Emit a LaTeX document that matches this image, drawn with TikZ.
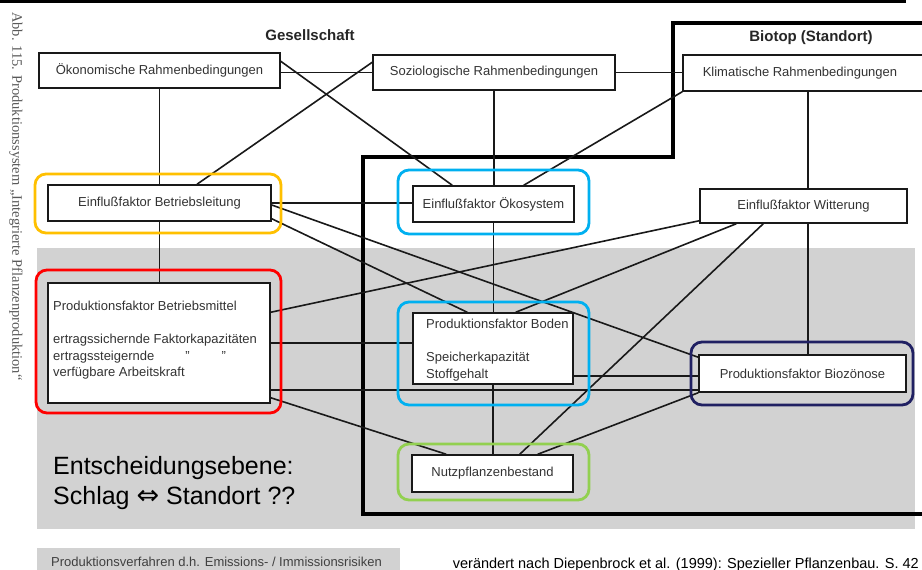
\documentclass[tikz,border=0pt]{standalone}
\usepackage{fontspec}
\setmainfont{Liberation Sans}
\newfontfamily\seriffont{Liberation Serif}
\newfontfamily\symfont{DejaVu Sans}
\usetikzlibrary{backgrounds}
\definecolor{hlorange}{HTML}{FFC000}
\definecolor{hlcyan}{HTML}{00B0F0}
\definecolor{hlred}{HTML}{FF0000}
\definecolor{hlgreen}{HTML}{92D050}
\definecolor{hlnavy}{HTML}{202062}
\definecolor{bandgray}{HTML}{D2D2D2}
\begin{document}
\begin{tikzpicture}[x=1pt,y=-1pt,
  box/.style={draw=black!90, line width=1.5pt, fill=white, inner sep=0pt,
    font=\fontsize{13}{15}\selectfont, text=black!80},
  boxtext/.style={inner sep=0pt, font=\fontsize{13}{16.5}\selectfont, text=black!80},
  link/.style={draw=black!90, line width=1.6pt},
  hl/.style={line width=2.8pt, rounded corners=11pt},
  head/.style={inner sep=0pt, font=\bfseries\fontsize{15}{17}\selectfont, text=black!85},
  region/.style={draw=black, line width=3.2pt, line join=miter}]
\useasboundingbox (0,0) rectangle (922,570);
\clip (0,0) rectangle (922,570);

% boxes
\node[box, minimum width=241pt, minimum height=35pt] (oek) at (159.5,70.5) {Ökonomische Rahmenbedingungen};
\node[box, minimum width=242pt, minimum height=35pt] (soz) at (494,72.5) {Soziologische Rahmenbedingungen};
\node[box, minimum width=241pt, minimum height=36pt] (klim) at (803.5,73) {};
\node[boxtext] (klimtxt) at (800,73) {Klimatische Rahmenbedingungen};
\node[box, minimum width=223pt, minimum height=36pt] (betr) at (159.5,203) {Einflußfaktor Betriebsleitung};
\node[box, minimum width=161pt, minimum height=36pt] (oeko) at (493.5,204) {Einflußfaktor Ökosystem};
\node[box, minimum width=207pt, minimum height=34pt] (witt) at (803.5,206) {Einflußfaktor Witterung};
\node[box, minimum width=222pt, minimum height=120pt] (mittel) at (159,343) {};
\node[box, minimum width=160pt, minimum height=71pt] (boden) at (493,348.5) {};
\node[box, minimum width=161pt, minimum height=37pt] (nutz) at (492.5,473.5) {Nutzpflanzenbestand};
\node[box, minimum width=207pt, minimum height=37pt] (bioz) at (802.5,373.5) {Produktionsfaktor Biozönose};

\node[boxtext, anchor=north west, align=left] (mitteltxt) at (53,301)
  {Produktionsfaktor Betriebsmittel\\[16.5pt]
   ertragssichernde Faktorkapazitäten\\
   ertragssteigernde\hspace{31pt}"\hspace{32pt}"\\
   verfügbare Arbeitskraft};
\node[boxtext, anchor=north west, align=left] (bodentxt) at (426,319)
  {Produktionsfaktor Boden\\[16.5pt]
   Speicherkapazität\\
   Stoffgehalt};

% helper coordinates
\coordinate (m1) at ([yshift=-61pt]mittel.north east);
\coordinate (m2) at ([yshift=14pt]mittel.south east);
\coordinate (b1) at ([yshift=9pt]boden.south east);
\coordinate (w1) at ([xshift=4.5pt]witt.north);
\coordinate (w2) at ([xshift=4.5pt]witt.south);

\begin{pgfonlayer}{background}
  \fill[white] (0,0) rectangle (922,570);
  \fill[bandgray] (37,248) rectangle (915,529);
  \fill[bandgray] (37,548) rectangle (400,570);
  \draw[line width=3pt] (0,1) -- (906,1);
  \draw[region] (924,23) -- (673,23) -- (673,157) -- (363,157) -- (363,514) -- (924,514);

  \draw[link] (soz.west) -- (soz.west -| oek.east);
  \draw[link] ([yshift=-9pt]oek.north east) -- ([xshift=40pt]oeko.north west);
  \draw[link] ([yshift=-8pt]soz.north west) -- ([xshift=37.5pt]betr.north);
  \draw[link] (oek.south) -- (oek.south |- betr.north);
  \draw[link] (betr.south) -- (betr.south |- mittel.north);
  \draw[link] (soz.south) -- (soz.south |- oeko.north);
  \draw[link] (oeko.south) -- (oeko.south |- boden.north);
  \draw[link] (boden.south) -- (boden.south |- nutz.north);
  \draw[link] (soz.east) -- (soz.east -| klim.west);
  \draw[link] (klim.south west) -- ([xshift=-51pt]oeko.north east);
  \draw[link] (w1) -- (w1 |- klim.south);
  \draw[link] (w2) -- (w2 |- bioz.north);
  \draw[link] (betr.east) -- (betr.east -| oeko.west);
  \draw[link] ([yshift=-2pt]betr.east) -- ([yshift=-3pt]bioz.north west);
  \draw[link] ([yshift=3pt]betr.south east) -- ([xshift=55pt]boden.north west);
  \draw[link] ([yshift=3pt]witt.south west) -- ([yshift=-30pt]mittel.north east);
  \draw[link] ([xshift=37pt]witt.south west) -- ([xshift=-58pt]boden.north east);
  \draw[link] ([xshift=64pt]witt.south west) -- ([xshift=-54pt]nutz.north east);
  \draw[link] (m1) -- (m1 -| boden.west);
  \draw[link] (m2) -- (m2 -| bioz.west);
  \draw[link] (b1) -- (b1 -| bioz.west);
  \draw[link] ([yshift=6pt]mittel.south east) -- ([xshift=35pt]nutz.north west);
  \draw[link] (bioz.south west) -- ([xshift=-36pt]nutz.north east);
\end{pgfonlayer}

% headings and texts
\node[head] (ges) at (310,35) {Gesellschaft};
\node[head] (biotop) at (811,38) {Biotop (Standort)};
\node[rotate=-90, anchor=west, inner sep=0pt, font=\seriffont\fontsize{14.5}{16}\selectfont, text=black!65]
  (caption) at (16,12) {Abb. 115. Produktionssystem „Integrierte Pflanzenproduktion“};
\node[anchor=north west, align=left, inner sep=0pt, font=\fontsize{25}{30}\selectfont] (ebene) at (53,456)
  {Entscheidungsebene:\\Schlag {\symfont\fontsize{27}{27}\selectfont ⇔} Standort ??};
\node[anchor=base west, inner sep=0pt, font=\fontsize{13}{15}\selectfont, text=black!75] (verf) at (51,566)
  {Produktionsverfahren d.h. Emissions- / Immissionsrisiken};
\node[anchor=base east, inner sep=0pt, font=\fontsize{14.5}{17}\selectfont] (src) at (919,568)
  {verändert nach Diepenbrock et al. (1999): Spezieller Pflanzenbau. S. 42};

% highlight frames
\draw[hl, draw=hlorange] (35,174) rectangle (281,233);
\draw[hl, draw=hlcyan] (398,170) rectangle (589,234);
\draw[hl, draw=hlred] (36,270) rectangle (281,413);
\draw[hl, draw=hlcyan] (398,302) rectangle (589,405);
\draw[hl, draw=hlgreen] (398,444) rectangle (589,500);
\draw[hl, draw=hlnavy] (691,342) rectangle (913,405);
\end{tikzpicture}
\end{document}
